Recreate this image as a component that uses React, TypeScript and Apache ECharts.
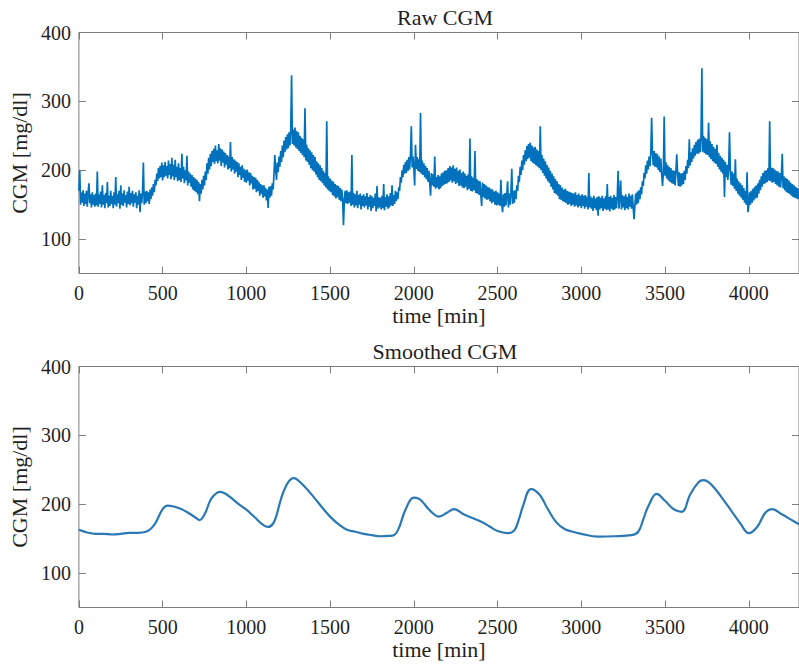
import React, { useEffect, useRef } from "react";
import * as echarts from "echarts";

// ---- data ----
const RAW_START = 0; // min
const RAW_STEP = 5; // min between raw samples
const RAW_CGM: number[] = [
  170, 200, 150, 168, 153, 171, 148, 166, 151, 170, 147, 167, 181, 152, 165, 146, 168, 150, 164, 147,
  166, 149, 198, 147, 165, 151, 169, 146, 178, 150, 164, 145, 167, 152, 183, 146, 163, 148, 170, 151,
  163, 145, 168, 150, 190, 147, 165, 152, 170, 144, 178, 150, 166, 148, 171, 153, 164, 146, 169, 151,
  176, 149, 167, 152, 170, 147, 165, 153, 168, 145, 163, 150, 171, 139, 166, 152, 168, 211, 150, 169,
  152, 170, 155, 168, 151, 172, 158, 175, 163, 180, 168, 186, 178, 195, 184, 203, 188, 206, 190, 211,
  185, 207, 190, 212, 192, 206, 188, 214, 193, 209, 187, 218, 191, 208, 186, 215, 190, 205, 184, 210,
  186, 203, 183, 224, 188, 205, 181, 200, 185, 221, 178, 198, 182, 195, 176, 193, 172, 190, 170, 188,
  168, 186, 165, 183, 155, 180, 166, 186, 172, 192, 178, 198, 186, 210, 195, 218, 201, 224, 206, 228,
  212, 231, 209, 236, 213, 229, 210, 238, 214, 232, 206, 230, 211, 227, 204, 225, 208, 222, 201, 220,
  203, 241, 198, 219, 201, 216, 195, 214, 198, 212, 190, 210, 193, 205, 186, 207, 189, 202, 183, 200,
  182, 201, 185, 197, 178, 196, 181, 192, 172, 190, 173, 189, 168, 186, 170, 183, 163, 180, 166, 178,
  160, 178, 162, 174, 156, 172, 145, 176, 160, 177, 163, 181, 172, 195, 222, 200, 186, 211, 197, 220,
  205, 228, 212, 236, 219, 243, 226, 248, 230, 252, 232, 255, 236, 258, 338, 238, 259, 236, 262, 233,
  257, 231, 255, 228, 250, 225, 247, 222, 245, 219, 290, 214, 237, 212, 232, 208, 229, 203, 226, 200,
  222, 198, 219, 194, 213, 190, 210, 186, 207, 184, 203, 181, 199, 178, 196, 175, 271, 172, 191, 170,
  188, 168, 185, 164, 183, 162, 180, 159, 178, 161, 177, 157, 174, 155, 172, 156, 120, 158, 170, 152,
  171, 151, 168, 153, 169, 148, 222, 150, 167, 146, 165, 149, 170, 145, 164, 150, 166, 143, 163, 148,
  165, 146, 162, 149, 167, 143, 161, 147, 164, 141, 162, 145, 160, 148, 166, 140, 177, 144, 161, 146,
  160, 143, 163, 145, 180, 142, 161, 147, 165, 144, 162, 146, 167, 149, 178, 148, 164, 151, 170, 155,
  168, 158, 175, 170, 190, 182, 200, 190, 208, 195, 212, 196, 215, 199, 219, 201, 222, 264, 204, 220,
  203, 178, 237, 202, 219, 199, 216, 197, 283, 195, 214, 193, 210, 190, 206, 187, 203, 183, 199, 181,
  163, 196, 178, 194, 176, 220, 173, 190, 175, 193, 172, 191, 174, 195, 177, 197, 179, 199, 180, 200,
  181, 203, 183, 206, 185, 204, 182, 207, 184, 202, 180, 204, 182, 199, 177, 201, 178, 196, 175, 198,
  174, 195, 176, 192, 171, 194, 173, 246, 170, 191, 169, 189, 171, 228, 167, 187, 166, 185, 164, 184,
  165, 148, 182, 161, 180, 159, 178, 157, 176, 158, 175, 155, 173, 152, 172, 154, 169, 150, 170, 149,
  168, 150, 166, 148, 186, 151, 139, 165, 147, 167, 149, 164, 184, 146, 166, 150, 168, 202, 151, 170,
  153, 171, 158, 178, 170, 192, 183, 205, 193, 214, 200, 222, 208, 229, 213, 235, 216, 238, 218, 240,
  213, 236, 211, 233, 209, 234, 207, 230, 205, 228, 203, 264, 200, 222, 196, 217, 192, 213, 188, 208,
  184, 204, 181, 199, 176, 195, 172, 191, 167, 187, 165, 184, 163, 180, 158, 178, 157, 175, 155, 172,
  154, 173, 152, 170, 150, 169, 151, 168, 148, 167, 150, 166, 147, 168, 149, 164, 146, 166, 148, 163,
  145, 165, 148, 163, 144, 164, 147, 161, 143, 196, 146, 162, 144, 160, 141, 163, 145, 159, 142, 161,
  134, 162, 143, 160, 145, 163, 141, 159, 144, 162, 142, 180, 143, 161, 140, 163, 144, 160, 142, 164,
  143, 161, 145, 163, 199, 144, 162, 185, 143, 164, 146, 162, 142, 165, 145, 161, 143, 166, 147, 163,
  144, 165, 146, 129, 148, 166, 150, 169, 152, 171, 158, 175, 165, 184, 177, 196, 188, 207, 195, 214,
  201, 220, 206, 226, 276, 224, 207, 228, 205, 225, 204, 223, 200, 220, 197, 217, 194, 177, 196, 278,
  192, 212, 188, 208, 185, 205, 183, 203, 181, 200, 180, 199, 178, 198, 223, 196, 177, 197, 176, 195,
  178, 196, 180, 199, 186, 206, 195, 215, 203, 245, 207, 226, 212, 232, 217, 237, 221, 241, 224, 244,
  224, 246, 226, 249, 348, 227, 250, 225, 247, 223, 245, 222, 269, 219, 242, 216, 238, 213, 234, 211,
  231, 209, 237, 205, 225, 201, 221, 198, 218, 195, 215, 161, 212, 190, 208, 186, 204, 255, 199, 179,
  198, 177, 195, 173, 216, 170, 188, 166, 184, 163, 181, 160, 178, 157, 174, 153, 170, 150, 197, 139,
  148, 168, 150, 170, 153, 173, 156, 176, 159, 178, 160, 181, 166, 186, 171, 191, 176, 196, 180, 199,
  181, 200, 183, 203, 185, 271, 184, 204, 182, 203, 183, 201, 180, 199, 178, 198, 176, 196, 175, 194,
  224, 174, 191, 171, 189, 168, 187, 167, 185, 165, 182, 163, 180, 161, 178, 160, 176, 159, 174, 158,
  172,
];

const SMOOTH_TIME: number[] = [
  0, 50, 100, 150, 200, 250, 300, 350, 400, 450, 500, 530, 560, 600, 650, 700,
  720, 750, 780, 800, 840, 870, 900, 950, 1000, 1050, 1100, 1130, 1160, 1180,
  1200, 1220, 1250, 1280, 1300, 1350, 1400, 1450, 1500, 1550, 1600, 1650, 1700,
  1750, 1800, 1850, 1880, 1910, 1950, 2000, 2030, 2050, 2100, 2150, 2200, 2240,
  2300, 2350, 2400, 2450, 2500, 2560, 2600, 2630, 2650, 2700, 2750, 2800, 2850,
  2900, 2950, 3000, 3100, 3200, 3300, 3340, 3370, 3400, 3450, 3500, 3550, 3600,
  3650, 3700, 3730, 3760, 3800, 3850, 3900, 3950, 4000, 4050, 4100, 4140, 4200,
  4250, 4300,
];
const SMOOTH_CGM: number[] = [
  163, 159, 157, 157, 156, 157, 158.5, 158.5, 160, 170, 193, 198, 197, 194, 188, 180,
  177, 185, 203, 211, 218, 216, 211, 201, 192, 181, 170, 167, 172, 184,
  202, 217, 232, 238, 236.5, 225, 211, 196, 182, 171, 163, 160, 157,
  155, 153.5, 154, 155, 165, 192, 209.5, 208, 204, 190, 182, 188, 193,
  185, 180, 175, 168, 161, 158, 162, 180, 196, 222, 214, 193, 174,
  164, 160, 157, 153, 153.5, 155, 160, 178, 197, 215, 205, 193, 189,
  214, 232, 235, 232, 222, 206, 189, 172, 158, 167, 188, 193, 185,
  178, 171,
];

const X_MIN = 0;
const X_MAX = 4300;
const X_STEP = 500;
const Y_MIN = 50;
const Y_MAX = 400;
const Y_STEP = 50;
const Y_LABEL_STEP = 100;
const X_TICKS: number[] = [0, 500, 1000, 1500, 2000, 2500, 3000, 3500, 4000];
const Y_TICKS: number[] = [100, 200, 300, 400];

const TITLES: string[] = ["Raw CGM", "Smoothed CGM"];
const X_NAME = "time [min]";
const Y_NAME = "CGM [mg/dl]";

// ---- styles ----
const FONT = "Liberation Serif";
const TEXT_COLOR = "#1f1f1f";
const AXIS_COLOR = "#7d7d7d";
const TICK_FS = 20;
const LABEL_FS = 22;

export default function App() {
  const ref = useRef<HTMLDivElement>(null);

  useEffect(() => {
    if (!ref.current) return;
    const chart = echarts.init(ref.current, undefined, { renderer: "svg" });

    const rawData = RAW_CGM.map((v, i) => [RAW_START + i * RAW_STEP, v]);
    const smoothData = SMOOTH_TIME.map((t, i) => [t, SMOOTH_CGM[i]]);

    const grids = [
      { left: 78, top: 32.5, width: 724, height: 241 },
      { left: 78, top: 366.5, width: 724, height: 241 },
    ].map((g) => ({
      ...g,
      show: true,
      borderColor: AXIS_COLOR,
      borderWidth: 1,
      backgroundColor: "transparent",
      containLabel: false,
    }));

    const tickLine = { color: AXIS_COLOR, width: 1 };

    const xAxes: any[] = [];
    const yAxes: any[] = [];
    [0, 1].forEach((g) => {
      xAxes.push({
        type: "value",
        gridIndex: g,
        position: "bottom",
        min: X_MIN,
        max: X_MAX,
        interval: X_STEP,
        axisLine: { show: false, onZero: false },
        axisTick: { show: true, inside: true, length: 7, lineStyle: tickLine, customValues: X_TICKS },
        axisLabel: {
          show: true,
          showMaxLabel: false,
          formatter: (v: number) => String(v),
          fontFamily: FONT,
          fontSize: TICK_FS,
          color: TEXT_COLOR,
          margin: 9,
        },
        splitLine: { show: false },
        name: X_NAME,
        nameLocation: "middle",
        nameGap: 31,
        nameTextStyle: { fontFamily: FONT, fontSize: LABEL_FS, color: TEXT_COLOR },
      });
      xAxes.push({
        type: "value",
        gridIndex: g,
        position: "top",
        min: X_MIN,
        max: X_MAX,
        interval: X_STEP,
        axisLine: { show: false, onZero: false },
        axisTick: { show: true, inside: true, length: 7, lineStyle: tickLine, customValues: X_TICKS },
        axisLabel: { show: false },
        splitLine: { show: false },
      });
      yAxes.push({
        type: "value",
        gridIndex: g,
        position: "left",
        min: Y_MIN,
        max: Y_MAX,
        interval: Y_STEP,
        axisLine: { show: false, onZero: false },
        axisTick: { show: true, inside: true, length: 7, lineStyle: tickLine, customValues: Y_TICKS },
        axisLabel: {
          show: true,
          formatter: (v: number) => (v % Y_LABEL_STEP === 0 ? String(v) : ""),
          fontFamily: FONT,
          fontSize: TICK_FS,
          color: TEXT_COLOR,
          margin: 8,
        },
        splitLine: { show: false },
        name: Y_NAME,
        nameLocation: "middle",
        nameGap: 39,
        nameTextStyle: { fontFamily: FONT, fontSize: LABEL_FS, color: TEXT_COLOR },
      });
      yAxes.push({
        type: "value",
        gridIndex: g,
        position: "right",
        min: Y_MIN,
        max: Y_MAX,
        interval: Y_STEP,
        axisLine: { show: false, onZero: false },
        axisTick: { show: true, inside: true, length: 7, lineStyle: tickLine, customValues: Y_TICKS },
        axisLabel: { show: false },
        splitLine: { show: false },
      });
    });

    const titleStyle = { fontFamily: FONT, fontSize: LABEL_FS, fontWeight: "normal", color: TEXT_COLOR };

    chart.setOption({
      animation: false,
      backgroundColor: "#ffffff",
      textStyle: { fontFamily: FONT },
      title: [
        { text: TITLES[0], left: 440, top: 1, textAlign: "center", textStyle: titleStyle },
        { text: TITLES[1], left: 440, top: 335, textAlign: "center", textStyle: titleStyle },
      ],
      grid: grids,
      xAxis: xAxes,
      yAxis: yAxes,
      series: [
        {
          type: "line",
          xAxisIndex: 0,
          yAxisIndex: 0,
          data: rawData,
          showSymbol: false,
          symbol: "none",
          lineStyle: { color: "#0072BD", width: 1.7 },
          clip: true,
        },
        {
          type: "line",
          xAxisIndex: 2,
          yAxisIndex: 2,
          data: smoothData,
          showSymbol: false,
          symbol: "none",
          smooth: 0.4,
          lineStyle: { color: "#2a78b4", width: 2.2 },
          clip: true,
        },
      ],
    });

    return () => chart.dispose();
  }, []);

  return (
    <div
      ref={ref}
      style={{ position: "absolute", left: 0, top: 0, width: 799, height: 668, background: "#fff" }}
    />
  );
}
